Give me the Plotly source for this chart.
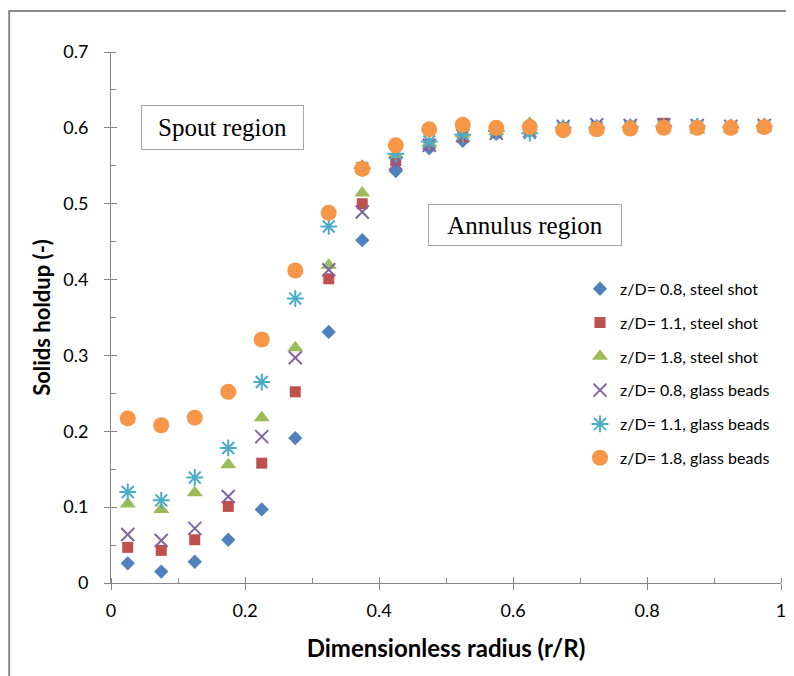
import plotly.graph_objects as go

r = [0.025, 0.075, 0.125, 0.175, 0.225, 0.275, 0.325, 0.375, 0.425, 0.475,
     0.525, 0.575, 0.625, 0.675, 0.725, 0.775, 0.825, 0.875, 0.925, 0.975]

steel_08 = [0.026, 0.015, 0.028, 0.057, 0.097, 0.191, 0.331, 0.452, 0.543, 0.573,
            0.583, 0.592, 0.596, 0.601, 0.602, 0.603, 0.604, 0.603, 0.602, 0.603]
steel_11 = [0.047, 0.043, 0.057, 0.101, 0.158, 0.252, 0.401, 0.500, 0.557, 0.578,
            0.588, 0.595, 0.598, 0.600, 0.601, 0.602, 0.606, 0.602, 0.601, 0.602]
steel_18 = [0.104, 0.097, 0.119, 0.156, 0.218, 0.310, 0.419, 0.514, 0.565, 0.580,
            0.592, 0.596, 0.606, 0.599, 0.597, 0.600, 0.601, 0.597, 0.600, 0.601]
glass_08 = [0.064, 0.056, 0.072, 0.114, 0.193, 0.297, 0.413, 0.489, 0.553, 0.577,
            0.590, 0.593, 0.596, 0.602, 0.604, 0.603, 0.604, 0.603, 0.602, 0.603]
glass_11 = [0.120, 0.109, 0.139, 0.178, 0.265, 0.375, 0.470, 0.547, 0.566, 0.582,
            0.591, 0.596, 0.593, 0.600, 0.600, 0.601, 0.602, 0.602, 0.601, 0.602]
glass_18 = [0.217, 0.208, 0.218, 0.252, 0.321, 0.412, 0.488, 0.546, 0.577, 0.598,
            0.604, 0.600, 0.601, 0.597, 0.598, 0.599, 0.600, 0.600, 0.600, 0.601]

names = ["z/D= 0.8, steel shot", "z/D= 1.1, steel shot", "z/D= 1.8, steel shot",
         "z/D= 0.8, glass beads", "z/D= 1.1, glass beads", "z/D= 1.8, glass beads"]

x_ticks = [0, 0.2, 0.4, 0.6, 0.8, 1]
x_labels = ["0", "0.2", "0.4", "0.6", "0.8", "1"]
y_ticks = [0, 0.1, 0.2, 0.3, 0.4, 0.5, 0.6, 0.7]
y_labels = ["0", "0.1", "0.2", "0.3", "0.4", "0.5", "0.6", "0.7"]

series = [steel_08, steel_11, steel_18, glass_08, glass_11, glass_18]
styles = [
    dict(symbol="diamond", size=11, color="#4F81BD"),
    dict(symbol="square", size=11, color="#C0504D"),
    dict(symbol="triangle-up", size=14, color="#9BBB59"),
    dict(symbol="x-thin-open", size=13, color="#8064A2", line=dict(width=2, color="#8064A2")),
    dict(symbol="asterisk-open", size=14, color="#4BACC6", line=dict(width=2, color="#4BACC6")),
    dict(symbol="circle", size=16, color="#F79646"),
]

fig = go.Figure()
for i, (vals, st, nm) in enumerate(zip(series, styles, names)):
    fig.add_trace(go.Scatter(x=r, y=vals, mode="markers", name=nm,
                             marker=st, legendgroup=f"g{i}"))

axcol = "#868686"
fig.update_layout(
    width=786, height=668,
    margin=dict(l=103, r=13, t=44, b=93),
    paper_bgcolor="white", plot_bgcolor="white",
    font=dict(family="Lato", color="#000000"),
    showlegend=True,
    legend=dict(x=0.700, y=0.586, xanchor="left", yanchor="top",
                font=dict(family="Lato", size=16, color="#000"),
                tracegroupgap=10, itemsizing="trace", bgcolor="rgba(0,0,0,0)"),
    xaxis=dict(range=[0, 1], tickvals=x_ticks, ticktext=x_labels, automargin=False,
               showgrid=False, zeroline=False, showline=True, linecolor=axcol, linewidth=1,
               ticks="outside", ticklen=6, tickcolor=axcol, ticklabelstandoff=5,
               tickfont=dict(family="Lato", size=18, color="#000"),
               minor=dict(dtick=0.1, ticks="inside", ticklen=5, tickcolor=axcol),
               title=dict(text="<b>Dimensionless radius (r/R)</b>", standoff=20,
                          font=dict(family="Lato", size=24, color="#000"))),
    yaxis=dict(range=[0, 0.7], tickvals=y_ticks, ticktext=y_labels, automargin=False,
               showgrid=False, zeroline=False, showline=True, linecolor=axcol, linewidth=1,
               ticks="outside", ticklen=6, tickcolor=axcol, ticklabelstandoff=12,
               tickfont=dict(family="Lato", size=18, color="#000"),
               minor=dict(dtick=0.05, ticks="inside", ticklen=5, tickcolor=axcol),
               title=dict(text="<b>Solids holdup (-)</b>", standoff=6,
                          font=dict(family="Lato", size=22, color="#000"))),
    xaxis2=dict(range=[0, 1], overlaying="x", anchor="y", side="bottom",
                tickvals=x_ticks, ticks="inside", ticklen=6, tickcolor=axcol,
                showticklabels=False, showgrid=False, zeroline=False, showline=False),
    yaxis2=dict(range=[0, 0.7], overlaying="y", anchor="x", side="left",
                tickvals=y_ticks, ticks="inside", ticklen=6, tickcolor=axcol,
                showticklabels=False, showgrid=False, zeroline=False, showline=False),
)

# invisible trace to activate overlay axes
fig.add_trace(go.Scatter(x=[0.5], y=[0.3], xaxis="x2", yaxis="y2", mode="markers",
                         marker=dict(opacity=0), showlegend=False, hoverinfo="skip"))

# outer chart frame
fig.add_shape(type="rect", xref="paper", yref="paper",
              x0=-0.152, x1=1.05, y0=-0.2, y1=1.077,
              line=dict(color="#8a8a8a", width=2), layer="below")

fig.add_annotation(x=0.167, y=0.857, xref="paper", yref="paper", text="Spout region",
                   xanchor="center", yanchor="middle",
                   showarrow=False, font=dict(family="Liberation Serif", size=25, color="#000"),
                   width=159, height=41, bordercolor="#a6a6a6", borderwidth=1, bgcolor="white")
fig.add_annotation(x=0.618, y=0.674, xref="paper", yref="paper", text="Annulus region",
                   xanchor="center", yanchor="middle",
                   showarrow=False, font=dict(family="Liberation Serif", size=25, color="#000"),
                   width=190, height=38, bordercolor="#a6a6a6", borderwidth=1, bgcolor="white")

fig.write_html("out.html")
